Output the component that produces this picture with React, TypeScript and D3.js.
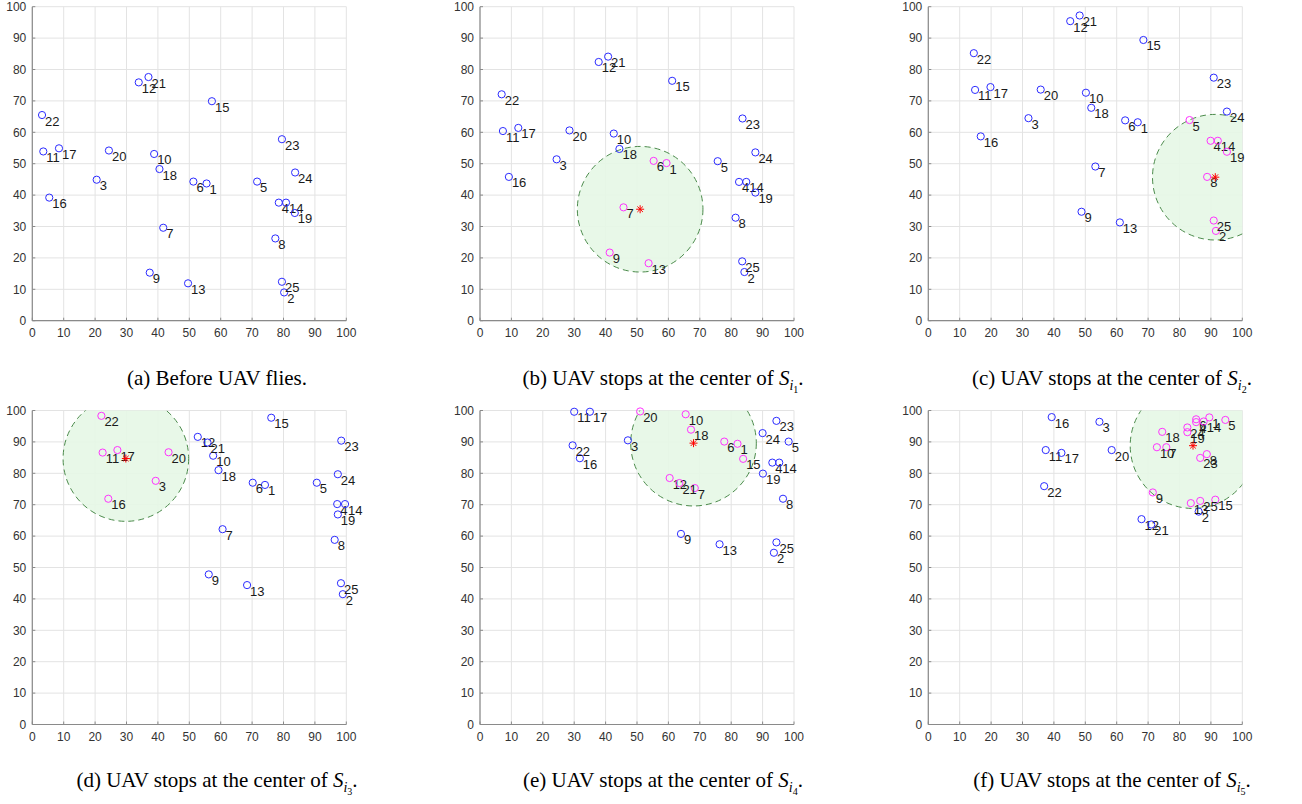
import React from "react";
import * as d3 from "d3";

// user ids 1..25, positions per panel (index = id-1)
const ids = d3.range(1, 26);

const panelAX = [55.5, 80.2, 20.5, 78.5, 71.6, 51.3, 41.7, 77.4, 37.4, 38.8, 3.5, 33.9, 49.6, 80.8, 57.2, 5.4, 8.5, 40.5, 83.6, 24.4, 37.0, 3.1, 79.5, 83.7, 79.5];
const panelAY = [43.7, 9.0, 44.9, 37.6, 44.3, 44.3, 29.6, 26.2, 15.3, 53.1, 53.9, 75.9, 11.9, 37.6, 69.9, 39.2, 54.9, 48.3, 34.3, 54.2, 77.6, 65.5, 57.8, 47.2, 12.4];

const panelBX = [59.4, 84.2, 24.4, 82.5, 75.7, 55.3, 45.7, 81.4, 41.3, 42.6, 7.3, 37.8, 53.7, 84.8, 61.2, 9.2, 12.2, 44.4, 87.7, 28.5, 40.8, 6.9, 83.6, 87.7, 83.5];
const panelBY = [50.2, 15.5, 51.4, 44.2, 50.8, 50.9, 36.1, 32.8, 21.7, 59.6, 60.4, 82.4, 18.3, 44.2, 76.4, 45.8, 61.4, 54.7, 40.8, 60.6, 84.1, 72.1, 64.4, 53.6, 18.9];

const panelCX = [66.7, 91.6, 31.9, 89.9, 83.2, 62.7, 53.2, 88.8, 48.8, 50.2, 14.9, 45.2, 61.0, 92.2, 68.5, 16.7, 19.8, 51.9, 95.1, 35.8, 48.2, 14.5, 90.9, 95.1, 90.9];
const panelCY = [63.2, 28.6, 64.5, 57.3, 63.9, 63.8, 49.1, 45.8, 34.7, 72.6, 73.5, 95.4, 31.3, 57.3, 89.4, 58.7, 74.4, 67.8, 53.8, 73.6, 97.2, 85.2, 77.4, 66.6, 31.9];

const panelDX = [74.1, 98.9, 39.3, 97.1, 90.6, 70.2, 60.6, 96.3, 56.2, 57.6, 22.4, 52.7, 68.4, 99.6, 76.1, 24.2, 27.1, 59.3, 97.3, 43.4, 55.8, 22.0, 98.4, 97.3, 98.3];
const panelDY = [76.3, 41.5, 77.6, 70.2, 77.0, 77.0, 62.2, 58.8, 47.8, 85.6, 86.6, 91.6, 44.4, 70.2, 97.7, 71.9, 87.4, 81.0, 66.9, 86.7, 89.8, 98.3, 90.4, 79.7, 45.0];

const panelEX = [82.0, 93.6, 47.1, 93.1, 98.3, 77.8, 68.4, 96.5, 64.0, 65.5, 30.0, 60.4, 76.3, 95.3, 83.8, 31.8, 35.0, 67.2, 90.1, 51.0, 63.5, 29.5, 94.4, 90.0, 94.4];
const panelEY = [89.4, 54.7, 90.5, 83.4, 90.1, 90.1, 75.3, 71.9, 60.7, 98.8, 99.6, 78.5, 57.4, 83.4, 84.6, 84.8, 99.6, 93.9, 79.9, 99.7, 76.9, 88.9, 96.7, 92.8, 58.0];

const panelFX = [89.5, 86.1, 54.5, 85.3, 94.6, 85.3, 75.8, 88.7, 71.5, 72.8, 37.4, 67.9, 83.6, 87.7, 91.4, 39.3, 42.4, 74.5, 82.5, 58.4, 71.0, 36.9, 86.6, 82.5, 86.6];
const panelFY = [97.8, 67.8, 96.4, 96.3, 97.0, 97.2, 88.3, 86.1, 73.9, 88.3, 87.4, 65.4, 70.5, 96.5, 71.6, 97.9, 86.5, 93.2, 93.1, 87.4, 63.7, 75.9, 84.9, 94.6, 71.2];

// users covered (magenta) in each panel
const servedA: number[] = [];
const servedB = [6, 1, 7, 9, 13];
const servedC = [5, 4, 14, 19, 8, 25, 2];
const servedD = [22, 11, 17, 16, 20, 3];
const servedE = [20, 10, 18, 6, 1, 15, 12, 21, 7];
const servedF = [9, 18, 10, 7, 24, 19, 6, 4, 14, 1, 5, 8, 23, 13, 25, 15];

// UAV stop centers (null = none)
const centers: ([number, number] | null)[] = [null, [51.0, 35.5], [91.4, 45.7], [29.8, 84.7], [68.0, 89.6], [84.3, 88.8]];
const coverRadius = 20;

const captionPrefix = ["(a) Before UAV flies.", "(b) UAV stops at the center of ", "(c) UAV stops at the center of ", "(d) UAV stops at the center of ", "(e) UAV stops at the center of ", "(f) UAV stops at the center of "];
const captionSub = ["", "1", "2", "3", "4", "5"];

const ticks = d3.range(0, 101, 10);

const panelsX = [panelAX, panelBX, panelCX, panelDX, panelEX, panelFX];
const panelsY = [panelAY, panelBY, panelCY, panelDY, panelEY, panelFY];
const served = [servedA, servedB, servedC, servedD, servedE, servedF];

const colX0 = [32.3, 480, 928.3];
const rowY0 = [6.7, 410.5];
const SIZE = 314;
const capCX = [217, 663, 1112];
const capBase = [385, 787];

function Panel({ idx }: { idx: number }) {
  const col = idx % 3;
  const row = Math.floor(idx / 3);
  const left = colX0[col];
  const top = rowY0[row];
  const x = d3.scaleLinear().domain([0, 100]).range([left, left + SIZE]);
  const y = d3.scaleLinear().domain([0, 100]).range([top + SIZE, top]);
  const xs = panelsX[idx];
  const ys = panelsY[idx];
  const sv = new Set(served[idx]);
  const c = centers[idx];
  const clipId = `clip${idx}`;
  const sans = "'Liberation Sans', Arial, sans-serif";
  const starR = 4;
  return (
    <g>
      <defs>
        <clipPath id={clipId}>
          <rect x={left} y={top} width={SIZE} height={SIZE} />
        </clipPath>
      </defs>
      {/* grid */}
      {ticks.map((t) => (
        <line key={"gx" + t} x1={x(t)} x2={x(t)} y1={y(0)} y2={y(100)} stroke="#e3e3e3" strokeWidth={1} />
      ))}
      {ticks.map((t) => (
        <line key={"gy" + t} x1={x(0)} x2={x(100)} y1={y(t)} y2={y(t)} stroke="#e3e3e3" strokeWidth={1} />
      ))}
      {/* coverage circle */}
      {c && (
        <circle
          cx={x(c[0])}
          cy={y(c[1])}
          r={x(coverRadius) - x(0)}
          fill="#e6f7e6"
          fillOpacity={0.9}
          stroke="#4b8a4b"
          strokeWidth={1}
          strokeDasharray="6,4"
          clipPath={`url(#${clipId})`}
        />
      )}
      {/* axes */}
      <line x1={x(0)} x2={x(100)} y1={y(0)} y2={y(0)} stroke="#8a8a8a" strokeWidth={1.2} />
      <line x1={x(0)} x2={x(0)} y1={y(0)} y2={y(100)} stroke="#8a8a8a" strokeWidth={1.2} />
      {ticks.map((t) => (
        <g key={"t" + t}>
          <line x1={x(t)} x2={x(t)} y1={y(0)} y2={y(0) - 3} stroke="#8a8a8a" />
          <line x1={x(0)} x2={x(0) + 3} y1={y(t)} y2={y(t)} stroke="#8a8a8a" />
          <text x={x(t)} y={y(0) + 16} textAnchor="middle" fontFamily={sans} fontSize={12} fill="#333">
            {t}
          </text>
          <text x={x(0) - 6} y={y(t) + 4.3} textAnchor="end" fontFamily={sans} fontSize={12} fill="#333">
            {t}
          </text>
        </g>
      ))}
      {/* users */}
      {ids.map((id, i) => (
        <g key={"p" + id}>
          <circle cx={x(xs[i])} cy={y(ys[i])} r={3.6} fill="none" stroke={sv.has(id) ? "#ff33ff" : "#2b2bff"} strokeWidth={1} />
          <text x={x(xs[i]) + 3} y={y(ys[i]) + 10.5} fontFamily={sans} fontSize={13} fill="#1a1a1a">
            {id}
          </text>
        </g>
      ))}
      {/* UAV */}
      {c && (
        <g stroke="#ff0000" strokeWidth={1}>
          <line x1={x(c[0]) - starR} x2={x(c[0]) + starR} y1={y(c[1])} y2={y(c[1])} />
          <line x1={x(c[0])} x2={x(c[0])} y1={y(c[1]) - starR} y2={y(c[1]) + starR} />
          <line x1={x(c[0]) - starR * 0.7} x2={x(c[0]) + starR * 0.7} y1={y(c[1]) - starR * 0.7} y2={y(c[1]) + starR * 0.7} />
          <line x1={x(c[0]) - starR * 0.7} x2={x(c[0]) + starR * 0.7} y1={y(c[1]) + starR * 0.7} y2={y(c[1]) - starR * 0.7} />
        </g>
      )}
      {/* caption */}
      <text x={capCX[col]} y={capBase[row]} textAnchor="middle" fontFamily="'Liberation Serif', 'Times New Roman', serif" fontSize={21} fill="#000">
        {captionPrefix[idx]}
        {captionSub[idx] && (
          <>
            <tspan fontStyle="italic">S</tspan>
            <tspan fontStyle="italic" fontSize={14} dy={5}>i</tspan>
            <tspan fontSize={10} dy={3}>{captionSub[idx]}</tspan>
            <tspan fontSize={21} dy={-8}>.</tspan>
          </>
        )}
      </text>
    </g>
  );
}

export default function App() {
  return (
    <svg width={1302} height={804} style={{ position: "absolute", left: 0, top: 0, background: "#fff" }}>
      <rect x={0} y={0} width={1302} height={804} fill="#fff" />
      {d3.range(6).map((i) => (
        <Panel key={i} idx={i} />
      ))}
    </svg>
  );
}
